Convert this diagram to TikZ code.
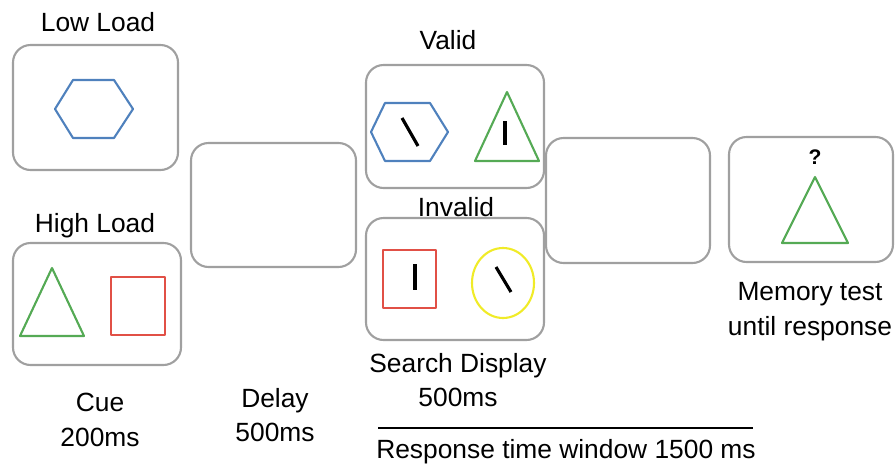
\documentclass[tikz,border=0pt]{standalone}
\usepackage{fontspec}
\setmainfont{Liberation Sans}
\usetikzlibrary{shapes.geometric}

\definecolor{framegray}{RGB}{160,160,160}
\definecolor{hexblue}{RGB}{79,129,189}
\definecolor{trigreen}{RGB}{85,170,85}
\definecolor{sqred}{RGB}{225,80,70}
\definecolor{ovyellow}{RGB}{240,235,40}

\begin{document}
\begin{tikzpicture}[x=0.02cm, y=-0.02cm,
  panel/.style 2 args = {shape=rectangle, rounded corners=10pt,
    draw=framegray, line width=1.2pt, inner sep=0pt,
    minimum width={#1*0.02cm}, minimum height={#2*0.02cm}},
  lbl/.style = {font=\fontsize{15}{19.8}\selectfont, align=center, inner sep=0pt},
  shape line/.style = {line width=1.2pt, line join=round},
  bar/.style = {line width=1.8pt, black}]

  \useasboundingbox (0,0) rectangle (896,470);

  % frames
  \node [panel={165}{125}] (low)     at (95.5,107.5) {};
  \node [panel={168}{122}] (high)    at (97,304)     {};
  \node [panel={165}{124}] (delay)   at (273.5,205)  {};
  \node [panel={178}{123}] (valid)   at (455,126.5)  {};
  \node [panel={178}{122}] (invalid) at (455,279)    {};
  \node [panel={164}{125}] (blank)   at (628,200.5)  {};
  \node [panel={164}{125}] (memory)  at (811,199.5)  {};

  % low load cue
  \draw [shape line, hexblue] (55,109) -- (73,80) -- (114,80) -- (133,109)
    -- (114,138) -- (73,138) -- cycle;

  % high load cue
  \draw [shape line, trigreen] (52,268) -- (84,336) -- (20,336) -- cycle;
  \draw [shape line, sqred] (111,277) rectangle (165,335);

  % valid search display
  \draw [shape line, hexblue] (371,132) -- (385,103) -- (430,103) -- (448,132)
    -- (430,161) -- (385,161) -- cycle;
  \draw [bar] (402,118) -- (418,146);
  \draw [shape line, trigreen] (507,92) -- (539,161) -- (475,161) -- cycle;
  \draw [bar] (505,121) -- (505,145);

  % invalid search display
  \draw [shape line, sqred] (383,250) rectangle (436,308);
  \draw [bar] (415,264) -- (415,290);
  \draw [shape line, ovyellow] (503,283) ellipse [x radius=31, y radius=35];
  \draw [bar] (496,267) -- (511,292);

  % memory test
  \node [font=\bfseries\fontsize{12}{14}\selectfont, inner sep=0pt] (qmark) at (815,157) {?};
  \draw [shape line, trigreen] (815,177) -- (848,243) -- (782,243) -- cycle;

  % labels
  \node [lbl] (lowlbl)     at (98,22)   {Low Load};
  \node [lbl] (highlbl)    at (95,226)  {High Load};
  \node [lbl] (validlbl)   at (448,40)  {Valid};
  \node [lbl] (invalidlbl) at (456,207) {Invalid};
  \node [lbl] (cuelbl)     at (100,420) {Cue\\200ms};
  \node [lbl] (delaylbl)   at (275,415) {Delay\\500ms};
  \node [lbl] (searchlbl)  at (458,380) {Search Display\\500ms};
  \node [lbl] (memlbl)     at (810,312) {Memory test\\until response};

  % response window
  \coordinate (rstart) at (378,428);
  \coordinate (rend)   at (753,428);
  \draw [line width=1pt] (rstart) -- (rend);
  \node [lbl] (resplbl) at (566,452) {Response time window 1500 ms};
\end{tikzpicture}
\end{document}
